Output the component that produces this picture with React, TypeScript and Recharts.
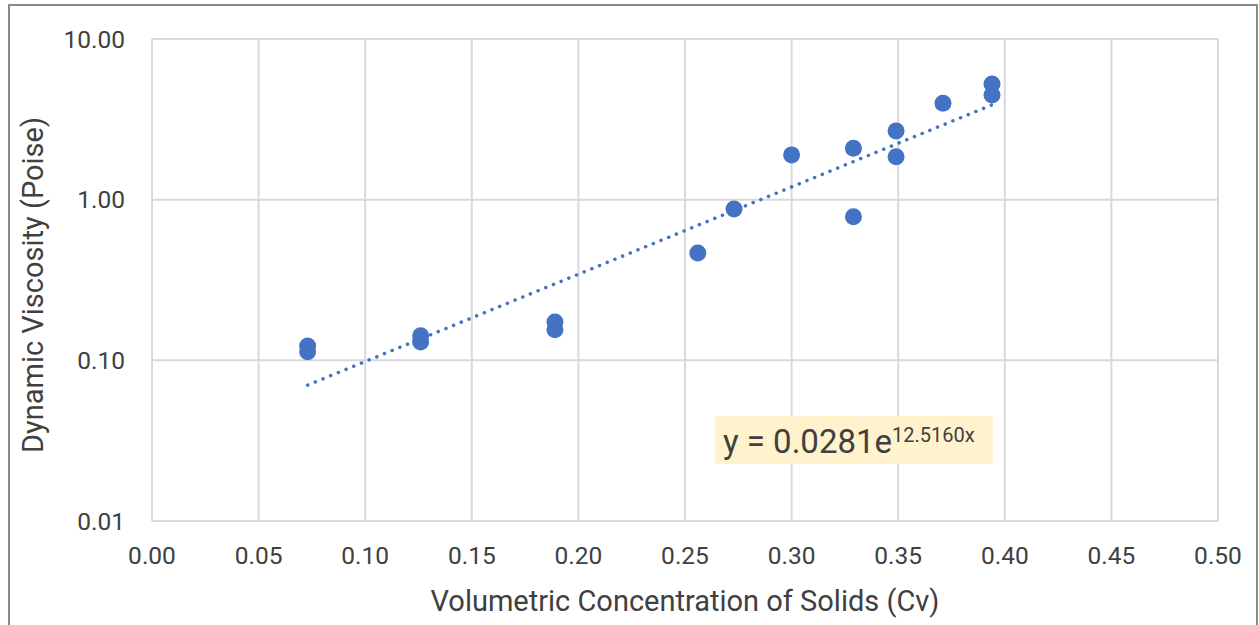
import { CartesianGrid, Label, Scatter, ScatterChart, XAxis, YAxis } from "recharts";

// volumetric concentration of solids (Cv) and measured viscosity (Poise)
const cv = [0.073, 0.073, 0.126, 0.126, 0.189, 0.189, 0.256, 0.273, 0.3, 0.329, 0.329, 0.349, 0.349, 0.371, 0.394, 0.394];
const viscosity = [0.123, 0.113, 0.142, 0.13, 0.173, 0.155, 0.466, 0.875, 1.9, 2.09, 0.784, 2.68, 1.85, 3.98, 5.25, 4.48];

// exponential trendline ends
const trendCv = [0.073, 0.394];
const trendViscosity = [0.0701, 3.89];

const xTicks = [0, 0.05, 0.1, 0.15, 0.2, 0.25, 0.3, 0.35, 0.4, 0.45, 0.5];
const yTicks = [0.01, 0.1, 1, 10];

const BLUE = "#4472C4";
const GRID = "#d9d9d9";
const TEXT = "#404040";
const FONT = "Roboto, 'Noto Sans', sans-serif";

const points = cv.map((x, i) => ({ x, y: viscosity[i] }));
const trend = trendCv.map((x, i) => ({ x, y: trendViscosity[i] }));

const XTitle = (props: any) => {
  const { viewBox } = props;
  const cx = viewBox.x + viewBox.width / 2;
  return (
    <text x={cx} y={viewBox.y + 89.5} textAnchor="middle" fontSize={29} fill={TEXT} fontFamily={FONT}>
      Volumetric Concentration of Solids (Cv)
    </text>
  );
};

const YTitle = (props: any) => {
  const { viewBox } = props;
  const cx = 33;
  const cy = viewBox.y + viewBox.height / 2 + 5;
  return (
    <text x={cx} y={cy} transform={`rotate(-90 ${cx} ${cy})`} textAnchor="middle" fontSize={29} fill={TEXT} fontFamily={FONT}>
      Dynamic Viscosity (Poise)
    </text>
  );
};

const Dot = (p: any) => <circle cx={p.cx} cy={p.cy} r={8.5} fill={BLUE} />;

export default function App() {
  return (
    <div
      style={{
        position: "absolute",
        left: 8,
        top: 4,
        width: 1250,
        height: 626,
        borderTop: "2px solid #8a8a8a",
        borderLeft: "2px solid #8a8a8a",
        borderRight: "2px solid #8a8a8a",
        boxSizing: "border-box",
        background: "#fff",
        fontFamily: FONT,
        overflow: "hidden",
      }}
    >
      <ScatterChart width={1246} height={620} margin={{ top: 33, right: 38, bottom: 0, left: 0 }}>
        <CartesianGrid stroke={GRID} strokeWidth={2} />
        <XAxis
          type="number"
          dataKey="x"
          domain={[0, 0.5]}
          ticks={xTicks}
          tickFormatter={(v: number) => v.toFixed(2)}
          height={105}
          tickLine={false}
          tickSize={0}
          tickMargin={26}
          axisLine={{ stroke: GRID, strokeWidth: 2 }}
          tick={{ fontSize: 24.5, fill: TEXT, fontFamily: FONT }}
          allowDataOverflow
        >
          <Label content={<XTitle />} />
        </XAxis>
        <YAxis
          type="number"
          dataKey="y"
          scale="log"
          domain={[0.01, 10]}
          ticks={yTicks}
          tickFormatter={(v: number) => v.toFixed(2)}
          width={142}
          tickLine={false}
          tickSize={0}
          tickMargin={27}
          axisLine={{ stroke: GRID, strokeWidth: 2 }}
          tick={{ fontSize: 24.5, fill: TEXT, fontFamily: FONT }}
          allowDataOverflow
        >
          <Label content={<YTitle />} />
        </YAxis>
        <Scatter
          data={trend}
          line={{ stroke: BLUE, strokeWidth: 3.5, strokeDasharray: "0.1 8.2", strokeLinecap: "round" }}
          shape={() => <g />}
          isAnimationActive={false}
        />
        <Scatter data={points} fill={BLUE} shape={Dot} isAnimationActive={false} />
      </ScatterChart>
      <div
        style={{
          position: "absolute",
          left: 705,
          top: 410,
          width: 278,
          height: 48,
          background: "#FFF2CC",
          color: TEXT,
          whiteSpace: "nowrap",
          paddingLeft: 8,
          boxSizing: "border-box",
          lineHeight: "52px",
          fontSize: 33,
        }}
      >
        y = 0.0281e
        <span style={{ fontSize: 20, position: "relative", top: -11 }}>12.5160x</span>
      </div>
    </div>
  );
}
